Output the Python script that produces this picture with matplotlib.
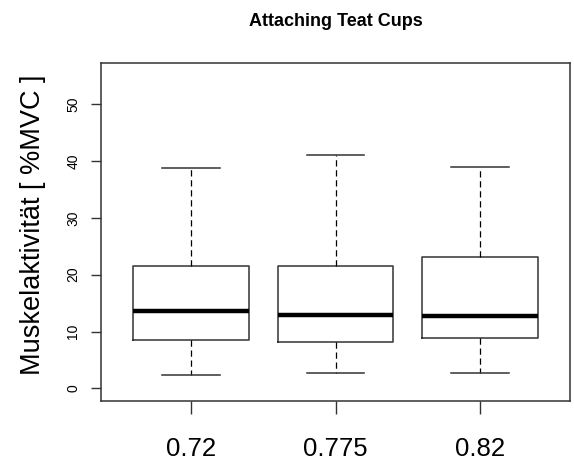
import matplotlib
matplotlib.use("Agg")
import matplotlib.pyplot as plt

plt.rcParams['font.family'] = ['Liberation Sans', 'DejaVu Sans']

# values (R boxplot)
groups = ["0.72", "0.775", "0.82"]
whislo = [2.45, 2.7, 2.7]
q1 = [8.5, 8.24, 8.8]
med = [13.6, 12.85, 12.7]
q3 = [21.6, 21.6, 23.1]
whishi = [38.7, 41.0, 38.96]
yticks = [0, 10, 20, 30, 40, 50]

stats = []
for i, g in enumerate(groups):
    stats.append(dict(label=g, whislo=whislo[i], q1=q1[i], med=med[i],
                      q3=q3[i], whishi=whishi[i], fliers=[]))

fig = plt.figure(figsize=(5.74, 4.61), dpi=100)
ax = fig.add_axes([101/574, 60/461, 469/574, 338/461])

edge = '#333333'
ax.bxp(stats, positions=[1, 2, 3], widths=0.8, capwidths=0.4,
       showfliers=False, patch_artist=False,
       boxprops=dict(color=edge, linewidth=1.1),
       medianprops=dict(color='black', linewidth=3.2, solid_capstyle='butt'),
       whiskerprops=dict(color='black', linewidth=0.9, linestyle=(0, (5, 3))),
       capprops=dict(color=edge, linewidth=1.1))

ax.set_xlim(0.38, 3.62)
ax.set_ylim(-2.2, 57.2)
ax.set_xticks([1, 2, 3])
ax.set_xticklabels(groups, fontsize=18.5)
ax.set_yticks(yticks)
ax.set_yticklabels([str(v) for v in yticks], fontsize=10, rotation=90, va='center')
ax.tick_params(axis='x', length=9, width=1, color=edge, pad=17)
ax.tick_params(axis='y', length=7, width=1, color=edge, pad=8)
for s in ax.spines.values():
    s.set_color(edge)
    s.set_linewidth(1.1)

ax.set_ylabel("Muskelaktivität [ %MVC ]", fontsize=19.5)
ax.yaxis.set_label_coords(-0.118, 0.52)
ax.set_title("Attaching Teat Cups", fontsize=13, fontweight='bold', pad=27)

fig.savefig("out.png", dpi=100)
